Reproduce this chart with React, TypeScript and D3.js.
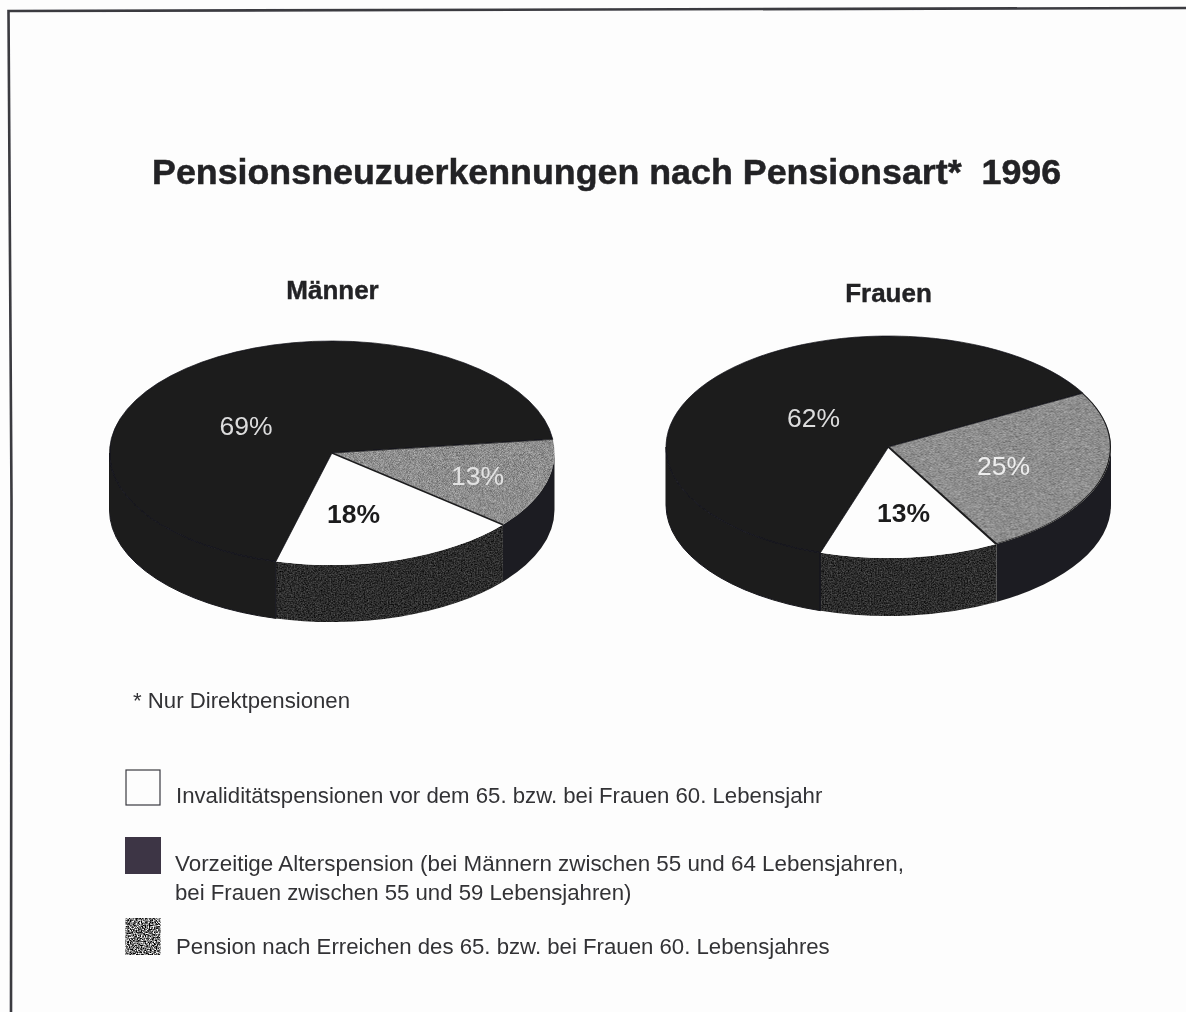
import React from "react";
import * as d3 from "d3";

const categories = ["Pension nach Erreichen", "Invaliditätspensionen", "Vorzeitige Alterspension"];
const maennerValues = [13, 18, 69];
const frauenValues = [25, 13, 62];
const title = "Pensionsneuzuerkennungen nach Pensionsart*  1996";
const footnote = "* Nur Direktpensionen";
const legendLines = [
  "Invaliditätspensionen vor dem 65. bzw. bei Frauen 60. Lebensjahr",
  "Vorzeitige Alterspension (bei Männern zwischen 55 und 64 Lebensjahren,",
  "bei Frauen zwischen 55 und 59 Lebensjahren)",
  "Pension nach Erreichen des 65. bzw. bei Frauen 60. Lebensjahres",
];

const FONT = "'Liberation Sans', Arial, sans-serif";
const DARK = "#1a1a1c";
const topFills = ["url(#grayTex)", "#fdfdfd", DARK];
const sideFills = ["#1f1f21", "url(#darkTex)", DARK];
const deg = Math.PI / 180;

type PieProps = {
  values: number[];
  cx: number; cy: number; rx: number; ry: number; depth: number;
  startDeg: number;
  name: string; nameX: number; nameY: number;
  labels: { t: string; x: number; y: number; fill: string; weight: number }[];
  rim?: boolean;
};

function Pie3D({ values, cx, cy, rx, ry, depth, startDeg, name, nameX, nameY, labels, rim }: PieProps) {
  const start = (startDeg + 90) * deg;
  const pie = d3.pie<number>().sort(null).startAngle(start).endAngle(start + 2 * Math.PI);
  const arcs = pie(values);
  const arcGen = d3.arc<d3.PieArcDatum<number>>().innerRadius(0).outerRadius(rx);
  const px = (a: number) => cx + rx * Math.sin(a);
  const py = (a: number) => cy - ry * Math.cos(a);

  const sidePath = (a0: number, a1: number) => {
    const lo = Math.PI / 2, hi = (3 * Math.PI) / 2;
    const segs: string[] = [];
    for (const off of [0, 2 * Math.PI]) {
      const s = Math.max(a0, lo + off), e = Math.min(a1, hi + off);
      if (e <= s) continue;
      segs.push(
        `M${px(s)},${py(s)} A${rx},${ry} 0 0 1 ${px(e)},${py(e)} L${px(e)},${py(e) + depth} A${rx},${ry} 0 0 0 ${px(s)},${py(s) + depth} Z`
      );
    }
    return segs.join(" ");
  };

  return (
    <g>
      <text x={nameX} y={nameY} textAnchor="middle" fontFamily={FONT} fontWeight={700} fontSize={26} fill="#232325" stroke="#232325" strokeWidth={0.4}>{name}</text>
      {arcs.map((a, i) => (
        <path key={"s" + i} d={sidePath(a.startAngle, a.endAngle)} fill={sideFills[i]} stroke={i === 2 ? DARK : "none"} strokeWidth={1} />
      ))}
      <g transform={`translate(${cx},${cy}) scale(1,${ry / rx})`}>
        {arcs.map((a, i) => (
          <path key={"t" + i} d={arcGen(a) as string} fill={topFills[i]} stroke={i === 2 ? DARK : "none"} strokeWidth={1} />
        ))}
        <line
          x1={0} y1={0}
          x2={rx * Math.sin(arcs[1].startAngle)} y2={-rx * Math.cos(arcs[1].startAngle)}
          stroke={DARK} strokeWidth={2.6}
        />
        {rim && (
          <path
            d={d3.arc()({ innerRadius: rx - 1.2, outerRadius: rx, startAngle: arcs[0].startAngle, endAngle: arcs[0].endAngle }) as string}
            fill={DARK}
          />
        )}
      </g>
      {labels.map((l) => (
        <text key={l.t} x={l.x} y={l.y} textAnchor="middle" fontFamily={FONT} fontSize={26.5} fontWeight={l.weight} fill={l.fill}>{l.t}</text>
      ))}
    </g>
  );
}

export default function App() {
  const swatch = d3.scaleOrdinal<string, string>().domain(categories).range(["url(#swatchTex)", "#fdfdfd", "#3c3644"]);
  const textColor = "#333336";
  return (
    <svg width={1186} height={1012} style={{ position: "absolute", left: 0, top: 0, display: "block", background: "#fdfdfd" }}>
      <defs>
        <filter id="grainGray" x="0" y="0" width="100%" height="100%" colorInterpolationFilters="sRGB">
          <feTurbulence type="fractalNoise" baseFrequency="0.8" numOctaves={2} seed={7} />
          <feColorMatrix type="matrix" values="0.55 0 0 0 0.28  0.55 0 0 0 0.28  0.55 0 0 0 0.28  0 0 0 0 1" />
        </filter>
        <pattern id="grayTex" patternUnits="userSpaceOnUse" width={400} height={400}>
          <rect width={400} height={400} filter="url(#grainGray)" />
        </pattern>
        <filter id="grainDark" x="0" y="0" width="100%" height="100%" colorInterpolationFilters="sRGB">
          <feTurbulence type="fractalNoise" baseFrequency="0.7" numOctaves={2} seed={11} />
          <feColorMatrix type="matrix" values="0.45 0 0 0 -0.05  0.45 0 0 0 -0.05  0.45 0 0 0 -0.05  0 0 0 0 1" />
        </filter>
        <pattern id="darkTex" patternUnits="userSpaceOnUse" width={400} height={400}>
          <rect width={400} height={400} filter="url(#grainDark)" />
        </pattern>
        <filter id="grainSwatch" x="0" y="0" width="100%" height="100%" colorInterpolationFilters="sRGB">
          <feTurbulence type="fractalNoise" baseFrequency="0.75" numOctaves={2} seed={3} />
          <feColorMatrix type="matrix" values="2.6 0 0 0 -0.85  2.6 0 0 0 -0.85  2.6 0 0 0 -0.85  0 0 0 0 1" />
        </filter>
        <pattern id="swatchTex" patternUnits="userSpaceOnUse" width={60} height={60}>
          <rect width={60} height={60} filter="url(#grainSwatch)" />
        </pattern>
        <filter id="soft" x="-2%" y="-2%" width="104%" height="104%">
          <feGaussianBlur stdDeviation={0.55} />
        </filter>
      </defs>

      <g filter="url(#soft)">
        <polyline points="1186,8 8.5,11 11.5,500 11,1012" fill="none" stroke="#3a3a40" strokeWidth={2.6} />

        <text x={152} y={184} fontFamily={FONT} fontWeight={700} fontSize={35.8} fill="#232325" stroke="#232325" strokeWidth={0.5} xmlSpace="preserve">{title}</text>

        <Pie3D
          values={maennerValues} cx={332} cy={453} rx={222.5} ry={112} depth={57} startDeg={-7}
          name="Männer" nameX={332.5} nameY={299}
          labels={[
            { t: "69%", x: 246, y: 435, fill: "#dcdcdc", weight: 400 },
            { t: "13%", x: 477.5, y: 485, fill: "#e2e2e2", weight: 400 },
            { t: "18%", x: 353.5, y: 523, fill: "#1d1d1f", weight: 700 },
          ]}
        />
        <Pie3D
          values={frauenValues} cx={888.5} cy={447} rx={222.5} ry={111} depth={58} startDeg={-29}
          name="Frauen" nameX={888.5} nameY={302} rim
          labels={[
            { t: "62%", x: 813.5, y: 427, fill: "#dcdcdc", weight: 400 },
            { t: "25%", x: 1003.5, y: 475, fill: "#ededed", weight: 400 },
            { t: "13%", x: 903.5, y: 522, fill: "#1d1d1f", weight: 700 },
          ]}
        />

        <text x={133} y={708} fontFamily={FONT} fontSize={22.2} fill={textColor}>{footnote}</text>

        <rect x={126} y={770} width={34} height={35} fill={swatch(categories[1])} stroke="#3a3a40" strokeWidth={1.2} />
        <text x={176} y={803} fontFamily={FONT} fontSize={22.2} fill={textColor}>{legendLines[0]}</text>

        <rect x={125} y={837} width={36} height={37} fill={swatch(categories[2])} />
        <text x={175} y={871} fontFamily={FONT} fontSize={22.38} fill={textColor}>{legendLines[1]}</text>
        <text x={175} y={900} fontFamily={FONT} fontSize={22.2} fill={textColor}>{legendLines[2]}</text>

        <rect x={125.5} y={918} width={35} height={37} fill={swatch(categories[0])} />
        <text x={176} y={954} fontFamily={FONT} fontSize={22.2} fill={textColor}>{legendLines[3]}</text>
      </g>
    </svg>
  );
}
